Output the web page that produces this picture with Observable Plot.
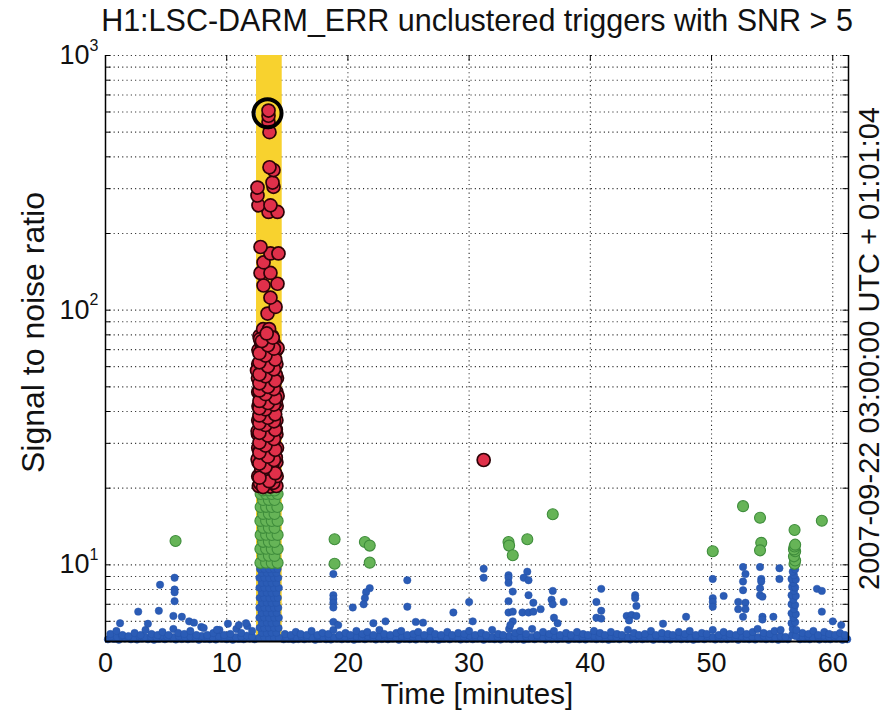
<!DOCTYPE html>
<html>
<head>
<meta charset="utf-8">
<script src="https://cdn.jsdelivr.net/npm/d3@7"></script>
<script src="https://cdn.jsdelivr.net/npm/@observablehq/plot@0.6"></script>
<style>
  html, body { margin: 0; padding: 0; background: #ffffff; }
  #chart svg { display: block; }
</style>
</head>
<body>
<div id="chart"></div>
<script>
// ---------- texts ----------
const titleText = "H1:LSC-DARM_ERR unclustered triggers with SNR > 5";
const xLabel = "Time [minutes]";
const yLabel = "Signal to noise ratio";
const epochLabel = "2007-09-22 03:00:00 UTC + 01:01:04";

// ---------- axes ----------
const xDomain = [0, 61.3];
const yDomain = [5, 1000];
const xTickValues = [0, 10, 20, 30, 40, 50, 60];
const xGridValues = [10, 20, 30, 40, 50, 60];
const yTickValues = [10, 100, 1000];
const yTickExponents = [1, 2, 3];
const yGridValues = [6, 7, 8, 9, 10, 20, 30, 40, 50, 60, 70, 80, 90, 100, 200, 300, 400, 500, 600, 700, 800, 900, 1000];

// ---------- highlighted interval (minutes) ----------
const bandStart = 12.46;
const bandEnd = 14.58;

// ---------- triggers: [time (min), SNR] ----------
const baselineLow = [
  [0.2,5.1],[0.7,5.12],[1.1,5.08],[1.6,5.14],[2.1,5.1],[2.6,5.09],[3.0,5.13],[3.5,5.1],[4.0,5.08],[4.4,5.12],
  [4.9,5.1],[5.4,5.14],[5.8,5.09],[6.3,5.11],[6.8,5.1],[7.2,5.13],[7.7,5.08],[8.2,5.12],[8.6,5.1],[9.1,5.09],
  [9.6,5.13],[10.0,5.1],[10.5,5.08],[11.0,5.12],[11.4,5.1],[11.9,5.14],[12.3,5.1],[14.7,5.1],[15.1,5.12],[15.5,5.09],
  [15.9,5.11],[16.4,5.1],[16.8,5.13],[17.3,5.08],[17.7,5.12],[18.2,5.1],[18.6,5.09],[19.1,5.13],[19.5,5.1],[20.0,5.11],
  [20.5,5.08],[20.9,5.12],[21.4,5.1],[21.9,5.14],[22.3,5.09],[22.8,5.11],[23.3,5.1],[23.7,5.13],[24.2,5.08],[24.7,5.12],
  [25.1,5.1],[25.6,5.09],[26.1,5.13],[26.5,5.1],[27.0,5.11],[27.5,5.08],[27.9,5.12],[28.4,5.1],[28.9,5.14],[29.3,5.09],
  [29.8,5.11],[30.3,5.1],[30.7,5.13],[31.2,5.08],[31.7,5.12],[32.1,5.1],[32.6,5.09],[33.1,5.13],[33.5,5.1],[34.0,5.11],
  [34.5,5.08],[34.9,5.12],[35.4,5.1],[35.9,5.14],[36.3,5.09],[36.8,5.11],[37.3,5.1],[37.7,5.13],[38.2,5.08],[38.7,5.12],
  [39.1,5.1],[39.6,5.09],[40.1,5.13],[40.5,5.1],[41.0,5.11],[41.5,5.08],[41.9,5.12],[42.4,5.1],[42.9,5.14],[43.3,5.09],
  [43.8,5.11],[44.3,5.1],[44.7,5.13],[45.2,5.08],[45.7,5.12],[46.1,5.1],[46.6,5.09],[47.1,5.13],[47.5,5.1],[48.0,5.11],
  [48.5,5.08],[48.9,5.12],[49.4,5.1],[49.9,5.14],[50.3,5.09],[50.8,5.11],[51.3,5.1],[51.7,5.13],[52.2,5.08],[52.7,5.12],
  [53.1,5.1],[53.6,5.09],[54.1,5.13],[54.5,5.1],[55.0,5.11],[55.5,5.08],[55.9,5.12],[56.3,5.1],[57.3,5.1],[57.7,5.12],
  [58.1,5.1],[58.5,5.14],[58.9,5.09],[59.4,5.11],[59.8,5.1],[60.3,5.13],[60.8,5.08],[61.2,5.1]
];
const baselineMid = [
  [0.45,5.24],[0.95,5.2],[1.35,5.26],[1.85,5.22],[2.35,5.2],[2.8,5.25],[3.25,5.21],[3.75,5.23],[4.2,5.2],[4.65,5.27],
  [5.1,5.22],[5.6,5.2],[6.05,5.25],[6.55,5.21],[7.0,5.23],[7.45,5.2],[7.95,5.26],[8.4,5.22],[8.85,5.2],[9.35,5.24],
  [9.8,5.21],[10.25,5.25],[10.75,5.2],[11.2,5.23],[11.65,5.27],[12.1,5.22],[14.9,5.21],[15.35,5.24],[15.75,5.2],[16.15,5.26],
  [16.6,5.22],[17.05,5.2],[17.5,5.25],[17.95,5.21],[18.4,5.23],[18.85,5.2],[19.3,5.26],[19.75,5.22],[20.25,5.2],[20.7,5.24],
  [21.15,5.21],[21.65,5.25],[22.1,5.2],[22.55,5.23],[23.05,5.27],[23.5,5.22],[23.95,5.2],[24.45,5.25],[24.9,5.21],[25.35,5.23],
  [25.85,5.2],[26.3,5.26],[26.75,5.22],[27.25,5.2],[27.7,5.24],[28.15,5.21],[28.65,5.25],[29.1,5.2],[29.55,5.23],[30.05,5.27],
  [30.5,5.22],[30.95,5.2],[31.45,5.25],[31.9,5.21],[32.35,5.23],[32.85,5.2],[33.3,5.26],[33.75,5.22],[34.25,5.2],[34.7,5.24],
  [35.15,5.21],[35.65,5.25],[36.1,5.2],[36.55,5.23],[37.05,5.27],[37.5,5.22],[37.95,5.2],[38.45,5.25],[38.9,5.21],[39.35,5.23],
  [39.85,5.2],[40.3,5.26],[40.75,5.22],[41.25,5.2],[41.7,5.24],[42.15,5.21],[42.65,5.25],[43.1,5.2],[43.55,5.23],[44.05,5.27],
  [44.5,5.22],[44.95,5.2],[45.45,5.25],[45.9,5.21],[46.35,5.23],[46.85,5.2],[47.3,5.26],[47.75,5.22],[48.25,5.2],[48.7,5.24],
  [49.15,5.21],[49.65,5.25],[50.1,5.2],[50.55,5.23],[51.05,5.27],[51.5,5.22],[51.95,5.2],[52.45,5.25],[52.9,5.21],[53.35,5.23],
  [53.85,5.2],[54.3,5.26],[54.75,5.22],[55.25,5.2],[55.7,5.24],[56.1,5.21],[57.5,5.22],[57.95,5.25],[58.35,5.2],[58.8,5.23],
  [59.25,5.27],[59.7,5.21],[60.1,5.24],[60.55,5.2],[61.05,5.22]
];
const baselineHigh = [
  [0.4,5.35],[0.9,5.5],[1.4,5.3],[1.9,5.25],[2.4,5.4],[2.9,5.3],[3.3,5.55],[3.8,5.35],[4.3,5.3],[4.7,5.45],
  [5.2,5.3],[5.6,5.6],[6.0,5.4],[6.5,5.35],[7.0,5.5],[7.5,5.3],[7.9,5.7],[8.4,5.3],[8.9,5.4],[9.4,5.55],
  [9.8,5.3],[10.3,5.35],[10.8,5.6],[11.2,5.4],[11.7,5.75],[12.1,5.5],[14.8,5.35],[15.3,5.3],[15.7,5.45],[16.1,5.35],
  [16.6,5.3],[17.0,5.5],[17.5,5.3],[17.9,5.4],[18.4,5.35],[18.8,5.55],[19.3,5.3],[19.8,5.4],[20.2,5.3],[20.7,5.5],
  [21.2,5.35],[21.6,5.45],[22.1,5.3],[22.6,5.55],[23.0,5.35],[23.5,5.3],[24.0,5.4],[24.4,5.5],[24.9,5.3],[25.4,5.35],
  [25.8,5.45],[26.3,5.3],[26.8,5.5],[27.2,5.35],[27.7,5.3],[28.2,5.45],[28.6,5.3],[29.1,5.4],[29.6,5.35],[30.0,5.5],
  [30.5,5.3],[31.0,5.4],[31.4,5.3],[31.9,5.55],[32.4,5.35],[32.8,5.3],[33.3,5.6],[33.8,5.4],[34.2,5.5],[34.7,5.35],
  [35.2,5.6],[35.6,5.3],[36.1,5.45],[36.6,5.35],[37.0,5.5],[37.5,5.3],[38.0,5.4],[38.4,5.3],[38.9,5.45],[39.4,5.35],
  [39.8,5.3],[40.3,5.5],[40.8,5.4],[41.2,5.3],[41.7,5.45],[42.2,5.35],[42.6,5.3],[43.1,5.55],[43.6,5.4],[44.0,5.3],
  [44.5,5.35],[45.0,5.5],[45.4,5.3],[45.9,5.4],[46.4,5.35],[46.8,5.3],[47.3,5.45],[47.8,5.35],[48.2,5.5],[48.7,5.3],
  [49.2,5.4],[49.6,5.35],[50.1,5.55],[50.6,5.3],[51.0,5.45],[51.5,5.35],[52.0,5.3],[52.4,5.5],[52.9,5.35],[53.4,5.45],
  [53.8,5.6],[54.3,5.4],[54.8,5.35],[55.2,5.5],[55.7,5.55],[57.5,5.4],[58.0,5.35],[58.4,5.5],[58.8,5.3],[59.3,5.45],
  [59.7,5.35],[60.2,5.3],[60.6,5.4],[61.0,5.3]
];
const blueOutliers = [
  [1.2,5.9],[2.7,6.55],[3.5,5.87],[4.4,6.6],[4.5,8.35],[5.6,6.3],[5.7,8.9],[5.7,8.0],[5.7,7.8],[5.7,7.2],
  [6.3,6.25],[6.9,6.0],[7.3,5.93],[8.1,5.65],[9.2,5.56],[10.1,5.87],[11.0,5.8],[11.6,5.9],
  [18.8,9.2],[18.8,7.6],[18.8,7.35],[18.8,7.1],[18.8,6.8],[18.8,5.97],[19.2,5.8],[20.4,6.8],[21.8,8.1],[21.5,7.8],
  [21.4,7.4],[21.3,7.0],[22.1,5.9],[23.1,6.0],[24.9,8.7],[24.9,6.85],[25.6,5.97],[26.2,5.93],[28.7,6.5],[30.0,7.15],
  [30.3,6.0],[31.2,9.65],[31.2,8.9],[33.25,9.1],[33.25,8.9],[33.25,8.5],[33.6,7.85],[33.25,7.2],[33.25,6.5],[33.6,6.55],
  [33.6,6.0],[33.4,5.8],[34.8,9.4],[34.5,8.9],[34.9,8.7],[34.9,7.6],[35.3,7.1],[34.4,6.5],[34.9,6.5],[35.3,6.55],
  [35.9,6.7],[36.9,7.9],[36.8,7.3],[36.9,7.0],[37.8,7.15],[37.0,6.2],[37.3,5.9],
  [40.9,8.05],[40.5,7.15],[40.9,6.6],[40.5,6.2],[40.9,6.15],[43.7,7.6],[43.7,7.4],[43.8,6.9],[43.0,6.3],[43.4,6.35],
  [43.8,6.3],[43.2,6.05],[46.0,5.87],[47.9,6.25],[50.1,8.8],[50.1,7.4],[50.1,7.15],[50.1,6.85],[51.0,7.55],[52.6,9.8],
  [52.8,9.2],[52.6,8.6],[52.6,7.95],[52.2,7.15],[52.8,7.1],[52.2,6.7],[52.8,6.7],[52.6,6.25],[54.0,9.8],[54.1,8.8],
  [54.1,8.6],[54.0,8.1],[54.0,7.6],[54.2,7.5],[54.2,6.25],[54.2,6.1],[55.1,6.25],[55.6,9.7],[55.6,8.8],[58.7,8.05],
  [59.1,7.9],[59.1,6.55],[60.0,6.0],[60.7,5.8]
];
const lateBurst = [
  [56.65,5.3],[56.95,5.25],[56.7,5.6],[57.0,5.55],[56.6,5.9],[56.9,5.95],[56.75,6.2],[56.6,6.45],[56.95,6.4],[56.8,6.7],
  [56.6,7.0],[56.9,6.95],[56.75,7.3],[56.6,7.6],[56.95,7.55],[56.8,7.9],[56.65,8.2],[56.9,8.15],[56.75,8.5],[56.6,8.8],
  [56.95,8.75],[56.8,9.1],[56.7,9.4],[56.9,9.6],[56.8,9.85],[56.85,10.1],[56.9,10.4],[56.8,10.8],[56.9,11.3],[56.8,11.5],
  [56.85,11.8],[56.9,12.0],[56.85,13.7]
];
const greenOutliers = [
  [5.78,12.4],[18.9,12.6],[18.9,10.1],[21.4,12.3],[21.8,11.9],[21.8,10.2],[33.25,12.3],[33.3,11.9],[33.6,10.9],[34.8,12.6],
  [36.9,15.8],[50.1,11.3],[52.6,17.0],[54.0,15.3],[54.1,12.2],[54.0,11.4],[59.1,14.9]
];
const redOutliers = [[31.2,25.8]];
const burstBlue = [
  [12.7,5.17],[13.1,5.18],[13.5,5.16],[13.9,5.17],[14.3,5.18],
  [12.9,5.41],[13.3,5.4],[13.7,5.42],[14.1,5.41],
  [12.72,5.66],[13.1,5.65],[13.48,5.67],[13.9,5.66],[14.28,5.65],
  [12.9,5.92],[13.32,5.93],[13.7,5.91],[14.1,5.92],
  [12.7,6.2],[13.08,6.21],[13.5,6.19],[13.92,6.2],[14.3,6.2],
  [12.88,6.48],[13.3,6.49],[13.72,6.47],[14.12,6.48],
  [12.7,6.78],[13.1,6.79],[13.5,6.77],[13.9,6.78],[14.25,6.78],
  [12.9,7.1],[13.3,7.11],[13.7,7.09],[14.1,7.1],
  [12.72,7.42],[13.1,7.43],[13.52,7.41],[13.9,7.42],[14.22,7.42],
  [12.9,7.77],[13.3,7.78],[13.7,7.76],[14.1,7.77],
  [12.7,8.12],[13.1,8.13],[13.5,8.11],[13.9,8.12],[14.3,8.12],
  [12.9,8.5],[13.3,8.51],[13.7,8.49],[14.1,8.5],
  [12.7,8.89],[13.1,8.9],[13.5,8.88],[13.9,8.89],[14.25,8.89],
  [12.9,9.3],[13.3,9.31],[13.7,9.29],[14.1,9.3],
  [12.75,9.64],[13.1,9.65],[13.5,9.63],[13.9,9.64],[14.2,9.64]
];
const burstGreen = [
  [12.78,10.18],[13.25,10.2],[13.72,10.17],[14.2,10.18],
  [13.0,10.85],[13.48,10.86],[13.95,10.84],
  [12.78,11.55],[13.25,11.56],[13.72,11.54],[14.2,11.55],
  [13.0,12.31],[13.48,12.32],[13.95,12.3],
  [12.8,13.11],[13.25,13.12],[13.72,13.1],[14.2,13.11],
  [13.0,13.97],[13.48,13.98],[13.95,13.96],
  [12.78,14.88],[13.25,14.89],[13.72,14.87],[14.2,14.88],
  [13.0,15.85],[13.48,15.86],[13.95,15.84],
  [12.8,16.88],[13.25,16.89],[13.72,16.87],[14.18,16.88],
  [13.0,17.98],[13.48,17.99],[13.95,17.97],
  [12.8,18.98],[13.25,18.99],[13.72,18.97],[14.2,18.98],
  [13.0,19.6],[13.5,19.61],[13.95,19.59]
];
const burstRed = [
  [12.65,20.4],[13.1,20.5],[13.6,20.3],[14.1,20.4],
  [12.85,21.0],[13.35,21.1],[13.85,21.0],
  [12.6,22.3],[13.1,22.4],[13.6,22.2],[14.12,22.3],
  [12.85,23.8],[13.35,23.9],[13.85,23.7],
  [12.62,25.3],[13.1,25.4],[13.6,25.2],[14.1,25.3],
  [12.85,27.0],[13.35,27.1],[13.85,26.9],
  [12.6,28.8],[13.1,28.9],[13.6,28.7],[14.15,28.8],
  [12.85,30.6],[13.35,30.7],[13.85,30.5],
  [12.58,32.6],[13.1,32.7],[13.6,32.5],[14.1,32.6],
  [12.85,34.8],[13.35,34.9],[13.85,34.7],
  [12.6,37.0],[13.1,37.1],[13.6,36.9],[14.1,37.0],
  [12.8,39.5],[13.35,39.6],[13.9,39.4],
  [12.62,42.0],[13.1,42.1],[13.6,41.9],[14.12,42.0],
  [12.85,44.8],[13.35,44.9],[13.85,44.7],
  [12.6,47.7],[13.1,47.8],[13.6,47.6],[14.1,47.7],
  [12.85,50.8],[13.35,50.9],[13.9,50.7],
  [12.58,54.1],[13.1,54.2],[13.6,54.0],[14.15,54.1],
  [12.85,57.7],[13.35,57.8],[13.85,57.6],
  [12.6,61.4],[13.1,61.5],[13.6,61.3],[14.1,61.4],
  [12.85,65.4],[13.35,65.5],[13.9,65.3],
  [12.62,69.7],[13.1,69.8],[13.6,69.6],[14.1,69.7],
  [12.85,74.2],[13.4,74.3],[13.9,74.1],
  [12.7,79.1],[13.2,79.2],[13.75,79.0],
  [13.0,84.2],[13.5,84.3],
  [12.75,20.9],[13.25,22.8],[13.75,24.6],[14.05,26.4],[12.75,28.2],[13.25,30.0],[13.75,32.0],[14.05,34.0],
  [12.75,36.2],[13.25,38.5],[13.75,41.0],[14.05,43.5],[12.75,46.2],[13.25,49.2],[13.75,52.4],[14.05,55.8],
  [12.75,59.5],[13.25,63.3],[13.75,67.5],[14.05,72.0],[12.75,77.0],[13.45,21.6],[12.95,25.9],[13.5,29.6],
  [12.95,33.6],[13.5,40.2],[12.95,45.6],[13.5,53.0],[12.95,60.0],[13.5,68.0],[12.95,71.5],[13.6,76.5],
  [12.55,26.0],[14.2,46.0],[12.5,58.0],[14.2,71.0],[12.55,33.5],[13.3,23.0],[13.6,43.5],[12.9,63.0],
  [13.0,20.2],[13.5,21.3],[12.7,22.0],[14.0,22.9],[13.2,24.2],[12.7,25.0],[13.9,25.8],[13.4,26.6],[12.7,27.6],[14.0,28.3],
  [13.2,29.4],[12.7,30.2],[13.9,31.2],[13.4,32.2],[12.7,33.0],[14.0,33.9],[13.2,35.4],[12.7,36.0],[13.9,36.6],[13.4,37.8],
  [12.7,38.6],[14.0,39.0],[13.2,40.8],[12.7,41.2],[13.9,42.6],[13.4,43.2],[12.7,44.0],[14.0,45.2],[13.2,46.8],[12.7,48.4],
  [13.9,49.0],[13.4,50.0],[12.7,51.6],[14.0,52.8],[13.2,55.0],[12.7,56.0],[13.9,58.6],[13.4,60.2],[12.7,62.4],[14.0,64.0],
  [13.2,66.3],[12.7,67.8],[13.9,70.6],[13.4,72.8],[12.9,75.6],[13.8,78.0],[13.3,81.0],
  [13.37,97],[14.03,103],[13.61,112],[13.04,125],[14.19,127],[12.79,140],[13.61,140],[13.04,154],[13.61,167],[14.27,167],
  [12.79,177],[13.45,243],[14.19,243],[12.62,258],[13.61,258],[12.54,282],[12.54,303],[13.86,305],[13.78,317],[13.86,355],
  [13.53,364],[13.53,500],[13.45,548],[13.45,580],[13.45,608]
];
const loudestEvent = [[13.37, 593]];

// ---------- build one trigger table and classify by SNR ----------
const triggers = [
  ...baselineLow, ...baselineMid, ...baselineHigh, ...blueOutliers, ...lateBurst, ...greenOutliers,
  ...redOutliers, ...burstBlue, ...burstGreen, ...burstRed
].map(([t, snr]) => ({t, snr}));
const low = triggers.filter(d => d.snr < 10);
const mid = triggers.filter(d => d.snr >= 10 && d.snr < 20);
const high = triggers.filter(d => d.snr >= 20);

const font = "Liberation Sans";
const dotted = {stroke: "#2a2a2a", strokeWidth: 1.1, strokeDasharray: "1.1,3.2"};
const txt = {fontFamily: font, fill: "#111", textAnchor: "middle", lineAnchor: "middle"};

const chart = Plot.plot({
  width: 893,
  height: 714,
  marginLeft: 105,
  marginRight: 45,
  marginTop: 55,
  marginBottom: 73,
  style: {fontFamily: font, background: "#ffffff", color: "#000"},
  x: {domain: xDomain, axis: null},
  y: {type: "log", domain: yDomain, axis: null},
  marks: [
    // dotted grid
    Plot.ruleY(yGridValues, {y: d => d, ...dotted}),
    Plot.ruleX(xGridValues, {x: d => d, ...dotted}),
    // highlighted interval
    Plot.rect([[bandStart, bandEnd]], {x1: d => d[0], x2: d => d[1], y1: yDomain[0], y2: yDomain[1], fill: "#f8d22e"}),
    // triggers
    Plot.dot(low, {x: "t", y: "snr", r: 3.7, fill: "#2b5cb6", stroke: "#2552a8", strokeWidth: 0.5}),
    Plot.dot(mid, {x: "t", y: "snr", r: 5.5, fill: "#66b457", stroke: "#3f8d3c", strokeWidth: 1.1}),
    Plot.dot(high, {x: "t", y: "snr", r: 6.5, fill: "#e0304a", stroke: "#2e0308", strokeWidth: 1.7}),
    Plot.dot(loudestEvent, {x: d => d[0], y: d => d[1], r: 14, fill: "none", stroke: "#000", strokeWidth: 4}),
    // axis lines
    Plot.ruleX([xDomain[0], xDomain[1]], {x: d => d, stroke: "#000", strokeWidth: 1.5}),
    Plot.ruleY([yDomain[0]], {y: d => d, stroke: "#000", strokeWidth: 1.8}),
    // inward ticks
    Plot.ruleY(yGridValues, {y: d => d, x1: xDomain[0], x2: xDomain[0] + 0.45, stroke: "#000", strokeWidth: 1}),
    Plot.ruleY(yGridValues, {y: d => d, x1: xDomain[1] - 0.45, x2: xDomain[1], stroke: "#000", strokeWidth: 1}),
    Plot.ruleX(xGridValues, {x: d => d, y1: 950, y2: 1000, stroke: "#000", strokeWidth: 1}),
    // tick labels
    Plot.text(xTickValues, {...txt, x: d => d, text: d => String(d), frameAnchor: "bottom", dy: 22, fontSize: 27}),
    Plot.text(yTickValues, {...txt, y: d => d, text: () => "10", frameAnchor: "left", dx: -16, textAnchor: "end", fontSize: 27}),
    Plot.text(yTickValues, {...txt, y: d => d, text: (d, i) => String(yTickExponents[i]), frameAnchor: "left", dx: -16, dy: -10, textAnchor: "start", fontSize: 16}),
    // labels and title
    Plot.text([xLabel], {...txt, text: d => d, frameAnchor: "bottom", dy: 53, fontSize: 29.5}),
    Plot.text([yLabel], {...txt, text: d => d, frameAnchor: "left", dx: -72, dy: -16, rotate: -90, fontSize: 32}),
    Plot.text([epochLabel], {...txt, text: d => d, frameAnchor: "right", dx: 21, rotate: -90, fontSize: 29}),
    Plot.text([titleText], {...txt, text: d => d, frameAnchor: "top", dy: -34, fontSize: 30.5})
  ]
});
document.getElementById("chart").appendChild(chart);
</script>
</body>
</html>
